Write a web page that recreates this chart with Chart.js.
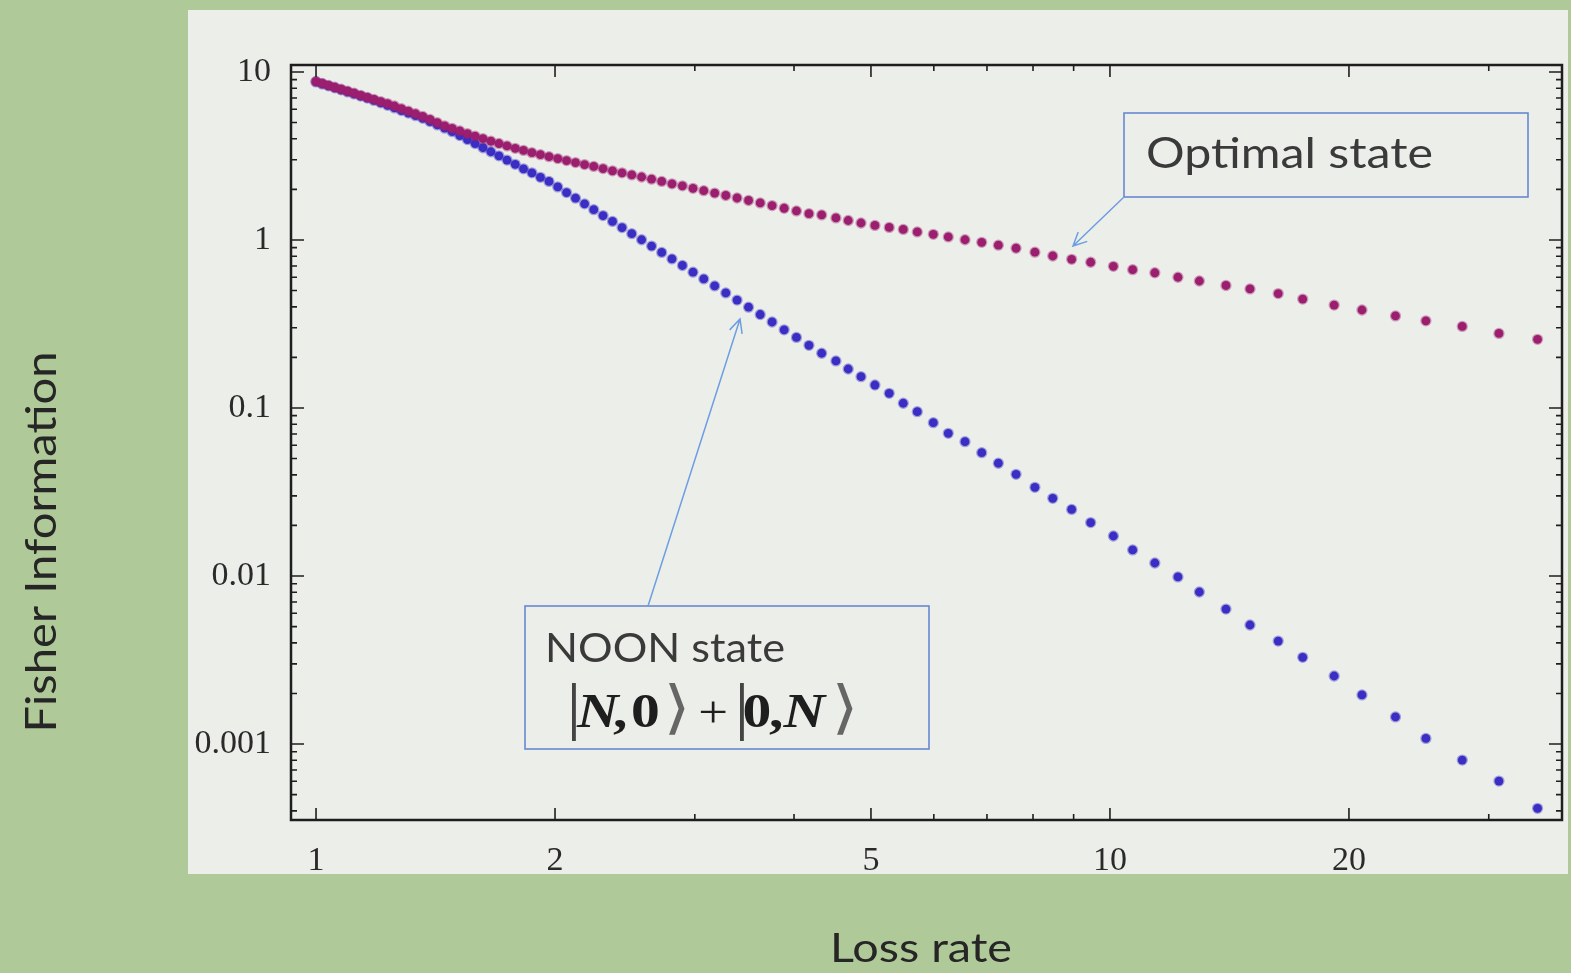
<!DOCTYPE html>
<html lang="en">
<head>
<meta charset="UTF-8">
<title>Fisher Information vs Loss rate</title>
<script src="https://cdn.jsdelivr.net/npm/chart.js"></script>
<style>
  html, body { margin: 0; padding: 0; background: #b0c998; }
  canvas { display: block; }
</style>
</head>
<body>
<canvas id="fisherChart" width="1571" height="973"></canvas>
<script>
// loss rate of every plotted point (shared by both series)
const lossRate = [
  1.000, 1.0182, 1.0368, 1.0560, 1.0757, 1.0960, 1.1169, 1.1383, 1.1604, 1.1831,
  1.2065, 1.2306, 1.2555, 1.2811, 1.3074, 1.3346, 1.3627, 1.3917, 1.4216, 1.4524,
  1.4843, 1.5173, 1.5513, 1.5865, 1.6229, 1.6607, 1.6997, 1.7401, 1.7820, 1.8254,
  1.8704, 1.9171, 1.9655, 2.0159, 2.0681, 2.1225, 2.1790, 2.2378, 2.2990, 2.3628,
  2.4292, 2.4985, 2.5709, 2.6463, 2.7252, 2.8076, 2.8939, 2.9842, 3.0787, 3.1779,
  3.2819, 3.3911, 3.5058, 3.6265, 3.7535, 3.8873, 4.0283, 4.1772,
  4.334, 4.517, 4.681, 4.858, 5.058, 5.272, 5.491, 5.719, 5.991, 6.257,
  6.568, 6.894, 7.235, 7.616, 8.044, 8.471, 8.948, 9.456, 10.10, 10.68,
  11.39, 12.18, 12.96, 14.00, 15.01, 16.29, 17.49, 19.16, 20.77, 22.89,
  25.00, 27.78, 30.90, 34.56
];

// Fisher information, NOON state |N,0> + |0,N>
const fisherNoon = [
  8.72, 8.48, 8.27, 8.04, 7.83, 7.61, 7.40, 7.19, 6.99, 6.77,
  6.55, 6.33, 6.11, 5.89, 5.69, 5.49, 5.30, 5.07, 4.84, 4.63,
  4.41, 4.18, 3.96, 3.75, 3.54, 3.35, 3.17, 2.99, 2.82, 2.65,
  2.51, 2.36, 2.23, 2.07, 1.915, 1.774, 1.640, 1.515, 1.397, 1.289,
  1.185, 1.090, 1.003, 0.920, 0.843, 0.771, 0.705, 0.643, 0.586, 0.533,
  0.484, 0.439, 0.398, 0.360, 0.325, 0.292, 0.263, 0.236,
  0.2117, 0.1905, 0.1706, 0.1536, 0.1370, 0.1223, 0.1067, 0.0951, 0.0818, 0.0707,
  0.0630, 0.0542, 0.0469, 0.0403, 0.0337, 0.0290, 0.0249, 0.0208, 0.0173, 0.0143,
  0.01195, 0.00987, 0.00803, 0.00636, 0.00511, 0.00410, 0.00328, 0.00254, 0.00196, 0.00145,
  0.00108, 0.000803, 0.000602, 0.000414
];

// Fisher information, optimal state
const fisherOptimal = [
  8.78, 8.55, 8.32, 8.11, 7.89, 7.68, 7.47, 7.26, 7.06, 6.86,
  6.66, 6.48, 6.27, 6.05, 5.84, 5.64, 5.44, 5.22, 4.99, 4.78,
  4.62, 4.46, 4.30, 4.15, 4.01, 3.87, 3.75, 3.63, 3.51, 3.41,
  3.31, 3.22, 3.13, 3.05, 2.97, 2.89, 2.81, 2.74, 2.66, 2.58,
  2.51, 2.44, 2.37, 2.30, 2.23, 2.16, 2.10, 2.03, 1.966, 1.902,
  1.840, 1.778, 1.718, 1.661, 1.603, 1.544, 1.488, 1.434,
  1.409, 1.352, 1.306, 1.262, 1.220, 1.187, 1.155, 1.116, 1.081, 1.042,
  1.003, 0.968, 0.931, 0.893, 0.846, 0.803, 0.767, 0.737, 0.697, 0.666,
  0.638, 0.600, 0.570, 0.536, 0.511, 0.480, 0.445, 0.410, 0.383, 0.353,
  0.330, 0.3056, 0.2777, 0.2564
];

const xTickValues = [1, 2, 5, 10, 20];
const xTickLabels = ['1', '2', '5', '10', '20'];
const xMinorTicks = [3, 4, 6, 7, 8, 9, 30];
const yTickValues = [10, 1, 0.1, 0.01, 0.001];
const yTickLabels = ['10', '1', '0.1', '0.01', '0.001'];

// text squeezed/stretched to a given width (the slide is a bit stretched sideways)
function fitText(ctx, text, x, y, width, font, align) {
    ctx.font = font;
    const w = ctx.measureText(text).width;
    ctx.save();
    ctx.translate(x, y);
    ctx.scale(width / w, 1);
    ctx.textAlign = align || 'left';
    ctx.textBaseline = 'alphabetic';
    ctx.fillText(text, 0, 0);
    ctx.restore();
}

function arrow(ctx, x0, y0, x1, y1) {
    ctx.beginPath();
    ctx.moveTo(x0, y0);
    ctx.lineTo(x1, y1);
    const a = Math.atan2(y1 - y0, x1 - x0);
    const len = 15;
    ctx.moveTo(x1 - len * Math.cos(a - 0.45), y1 - len * Math.sin(a - 0.45));
    ctx.lineTo(x1, y1);
    ctx.lineTo(x1 - len * Math.cos(a + 0.45), y1 - len * Math.sin(a + 0.45));
    ctx.stroke();
}

const decor = {
    id: 'decor',
    beforeDraw(chart) {
        const ctx = chart.ctx;
        ctx.save();
        ctx.fillStyle = '#b0c998';
        ctx.fillRect(0, 0, chart.width, chart.height);
        ctx.fillStyle = '#eceeea';
        ctx.fillRect(188, 10, 1380, 864);
        ctx.restore();
    },
    afterDraw(chart) {
        const ctx = chart.ctx;
        const a = chart.chartArea;
        const xs = chart.scales.x, ys = chart.scales.y;
        ctx.save();

        // frame
        ctx.strokeStyle = '#1e1e1e';
        ctx.lineWidth = 2.5;
        ctx.strokeRect(a.left, a.top, a.right - a.left, a.bottom - a.top);

        // inward ticks on all four sides
        ctx.lineWidth = 1.6;
        ctx.beginPath();
        const xt = xTickValues.map(v => [v, 12]).concat(xMinorTicks.map(v => [v, 6]));
        xt.forEach(([v, len]) => {
            const px = xs.getPixelForValue(v);
            ctx.moveTo(px, a.bottom); ctx.lineTo(px, a.bottom - len);
            ctx.moveTo(px, a.top); ctx.lineTo(px, a.top + len);
        });
        const yt = yTickValues.map(v => [v, 13]);
        for (let e = -4; e <= 1; e++) {
            for (let m = 2; m <= 9; m++) {
                const v = m * Math.pow(10, e);
                if (v > ys.min && v < ys.max) yt.push([v, 6]);
            }
        }
        yt.forEach(([v, len]) => {
            const py = ys.getPixelForValue(v);
            ctx.moveTo(a.left, py); ctx.lineTo(a.left + len, py);
            ctx.moveTo(a.right, py); ctx.lineTo(a.right - len, py);
        });
        ctx.stroke();

        // axis titles
        ctx.fillStyle = '#262626';
        fitText(ctx, 'Loss rate', 921, 962, 182, '40px Lato', 'center');
        ctx.save();
        ctx.translate(56, 542);
        ctx.rotate(-Math.PI / 2);
        fitText(ctx, 'Fisher Information', 0, 0, 381, '42px Lato', 'center');
        ctx.restore();

        // annotation boxes
        ctx.strokeStyle = 'rgb(104,136,208)';
        ctx.lineWidth = 1.6;
        ctx.strokeRect(1124, 113, 404, 84);
        ctx.strokeRect(525, 606, 404, 143);
        ctx.strokeStyle = 'rgb(110,158,226)';
        ctx.lineWidth = 1.5;
        arrow(ctx, 1124, 197, 1073, 246);
        arrow(ctx, 648, 606, 740, 319);

        ctx.fillStyle = '#3a3a3a';
        fitText(ctx, 'Optimal state', 1146, 168, 287, '42px Lato');
        fitText(ctx, 'NOON state', 545, 662, 240, '40px Lato');

        // ket notation |N,0> + |0,N>, stretched sideways like the slide
        const serif = 'Liberation Serif';
        const pieces = [
            ['|', 1, '64px ' + serif, '#444'],
            ['N', 10, 'italic bold 48px ' + serif, '#1e1e1e'],
            [',', 40, 'bold 48px ' + serif, '#1e1e1e'],
            ['0', 55, 'bold 48px ' + serif, '#1e1e1e'],
            ['\u27E9', 82, '58px DejaVu Sans', '#666'],
            ['+', 111, '44px ' + serif, '#1e1e1e'],
            ['|', 141, '64px ' + serif, '#444'],
            ['0', 148, 'bold 48px ' + serif, '#1e1e1e'],
            [',', 170, 'bold 48px ' + serif, '#1e1e1e'],
            ['N', 182, 'italic bold 48px ' + serif, '#1e1e1e'],
            ['\u27E9', 222, '58px DejaVu Sans', '#666']
        ];
        ctx.save();
        ctx.translate(565, 727);
        ctx.scale(1.2, 1);
        ctx.textAlign = 'left';
        pieces.forEach(([t, x, f, c]) => {
            ctx.font = f;
            ctx.fillStyle = c;
            ctx.fillText(t, x, 0);
        });
        ctx.restore();
        ctx.restore();
    }
};

const ctx = document.getElementById('fisherChart').getContext('2d');
new Chart(ctx, {
    type: 'scatter',
    data: {
        datasets: [
            {
                label: 'Optimal state',
                data: lossRate.map((x, i) => ({ x: x, y: fisherOptimal[i] })),
                backgroundColor: 'rgb(156,30,110)',
                borderColor: 'rgba(156,30,110,0.4)',
                borderWidth: 2.5,
                pointRadius: 4.4
            },
            {
                label: 'NOON state',
                data: lossRate.map((x, i) => ({ x: x, y: fisherNoon[i] })),
                backgroundColor: 'rgb(58,46,196)',
                borderColor: 'rgba(58,46,196,0.4)',
                borderWidth: 2.5,
                pointRadius: 4.4
            }
        ]
    },
    options: {
        responsive: false,
        animation: false,
        devicePixelRatio: 1,
        layout: { padding: { left: 0, top: 65, right: 9, bottom: 0 } },
        plugins: { legend: { display: false }, tooltip: { enabled: false } },
        scales: {
            x: {
                type: 'logarithmic',
                min: 0.930,
                max: 37.1,
                grid: { display: false },
                border: { display: false },
                afterBuildTicks: s => { s.ticks = xTickValues.map(v => ({ value: v })); },
                afterFit: s => { s.height = 153; },
                ticks: {
                    autoSkip: false,
                    maxRotation: 0,
                    padding: 13,
                    color: '#2a2a2a',
                    font: { family: 'Liberation Serif', size: 34 },
                    callback: (v, i) => xTickLabels[i]
                }
            },
            y: {
                type: 'logarithmic',
                min: 3.53e-4,
                max: 11.0,
                grid: { display: false },
                border: { display: false },
                afterBuildTicks: s => { s.ticks = yTickValues.map(v => ({ value: v })); },
                afterFit: s => { s.width = 291; },
                ticks: {
                    autoSkip: false,
                    padding: 12,
                    color: '#2a2a2a',
                    font: { family: 'Liberation Serif', size: 34 },
                    callback: (v, i) => yTickLabels[i]
                }
            }
        }
    },
    plugins: [decor]
});
</script>
</body>
</html>
